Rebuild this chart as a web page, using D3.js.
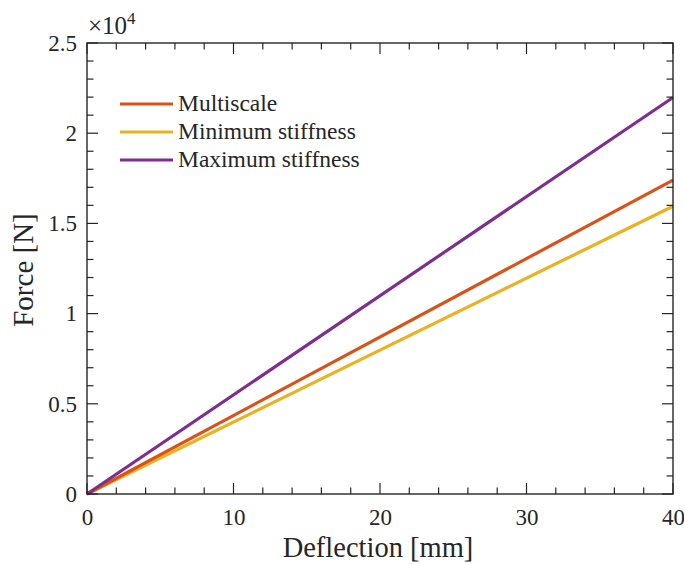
<!DOCTYPE html>
<html><head><meta charset="utf-8">
<script src="https://cdn.jsdelivr.net/npm/d3@7"></script>
<style>body{margin:0;background:#fff}text{font-family:"Liberation Serif","DejaVu Serif",serif;fill:#262626}</style>
</head><body><svg id="c" width="684" height="564"></svg>
<script>
const deflection = [0, 40];
const multiscale = [0, 17400];
const minStiffness = [0, 15950];
const maxStiffness = [0, 21980];
const seriesNames = ["Multiscale", "Minimum stiffness", "Maximum stiffness"];
const seriesColors = ["#D95319", "#EDB120", "#7E2F8E"];
const xTicks = [0, 10, 20, 30, 40];
const yTicks = [0, 0.5, 1, 1.5, 2, 2.5];
const yTickLabels = ["0", "0.5", "1", "1.5", "2", "2.5"];

const svg = d3.select("#c");
const L = 87, R = 673, T = 43, B = 494;
const x = d3.scaleLinear().domain([0, 40]).range([L, R]);
const y = d3.scaleLinear().domain([0, 25000]).range([B, T]);
const axCol = "#262626";

// lines
const allSeries = [multiscale, minStiffness, maxStiffness];
const line = d3.line().x((d, i) => x(deflection[i])).y(d => y(d));
const g = svg.append("g");
[1, 0, 2].forEach(k => {
  g.append("path").datum(allSeries[k]).attr("d", line)
    .attr("fill", "none").attr("stroke", seriesColors[k]).attr("stroke-width", 3.2);
});

// ticks (major + minor) on all four sides
const xMinor = d3.range(0, 40.001, 2);
const yMinor = d3.range(0, 25000.1, 1000);
const tk = svg.append("g").attr("stroke", axCol).attr("stroke-width", 1.2);
xMinor.forEach(v => {
  const len = (v % 10 === 0) ? 11 : 6.5;
  tk.append("line").attr("x1", x(v)).attr("x2", x(v)).attr("y1", B).attr("y2", B - len);
  tk.append("line").attr("x1", x(v)).attr("x2", x(v)).attr("y1", T).attr("y2", T + len);
});
yMinor.forEach(v => {
  const len = (v % 5000 === 0) ? 11 : 6.5;
  tk.append("line").attr("x1", L).attr("x2", L + len).attr("y1", y(v)).attr("y2", y(v));
  tk.append("line").attr("x1", R).attr("x2", R - len).attr("y1", y(v)).attr("y2", y(v));
});
svg.append("rect").attr("x", L).attr("y", T).attr("width", R - L).attr("height", B - T)
  .attr("fill", "none").attr("stroke", axCol).attr("stroke-width", 1.4);

// tick labels
const xAxis = svg.append("g").attr("transform", `translate(0,${B})`)
  .call(d3.axisBottom(x).tickValues(xTicks).tickSize(0).tickFormat(d3.format("d")));
xAxis.select(".domain").remove();
xAxis.selectAll("text").attr("y", 31).attr("dy", 0).attr("font-size", 23).attr("font-family", null).style("fill", axCol);
const yAxis = svg.append("g").attr("transform", `translate(${L},0)`)
  .call(d3.axisLeft(y).tickValues(yTicks.map(v => v * 10000)).tickSize(0).tickPadding(10)
    .tickFormat((d, i) => yTickLabels[i]));
yAxis.select(".domain").remove();
yAxis.selectAll("text").attr("font-size", 23).attr("font-family", null).style("fill", axCol);

// exponent
const ex = svg.append("text").attr("x", 88).attr("y", 34).attr("font-size", 25);
ex.append("tspan").text("\u00d710");
ex.append("tspan").attr("dy", -10).attr("font-size", 17).text("4");

// axis titles
svg.append("text").attr("x", 378).attr("y", 557).attr("text-anchor", "middle")
  .attr("font-size", 28.5).text("Deflection [mm]");
svg.append("text").attr("transform", `translate(33,270) rotate(-90)`)
  .attr("text-anchor", "middle").attr("font-size", 29).text("Force [N]");

// legend
const lg = svg.append("g");
const legY = [104, 132, 160];
seriesNames.forEach((n, i) => {
  lg.append("line").attr("x1", 120).attr("x2", 173).attr("y1", legY[i]).attr("y2", legY[i])
    .attr("stroke", seriesColors[i]).attr("stroke-width", 3.2);
  lg.append("text").attr("x", 178).attr("y", legY[i] + 7).attr("font-size", 23.5).text(n);
});
</script></body></html>
